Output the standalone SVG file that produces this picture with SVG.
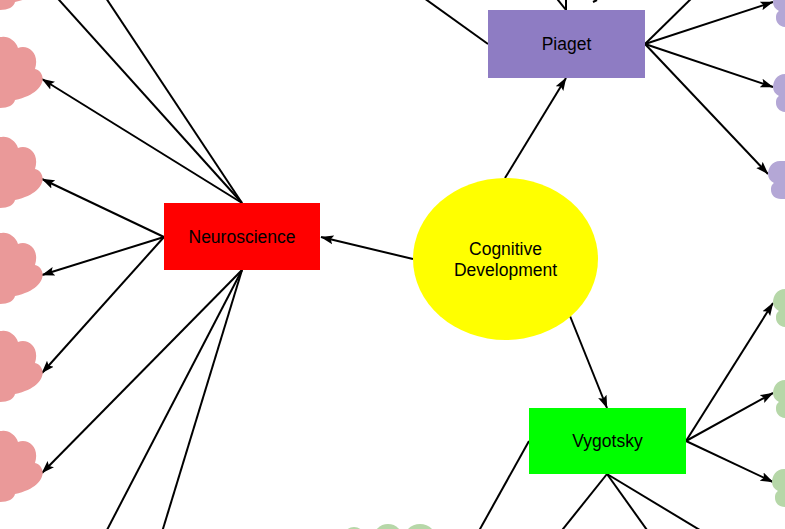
<svg xmlns="http://www.w3.org/2000/svg" width="785" height="529" viewBox="0 0 785 529">
<style>
.c{stroke:#000;stroke-width:2;fill:none}
.a{marker-end:url(#ah)}
.t{font-family:"Liberation Sans",Arial,sans-serif;font-size:17.5px;fill:#000;text-anchor:middle}
.pk{fill:#ea9999}
.pu{fill:#b4a7d6}
.gr{fill:#b6d7a8}
</style>
<defs>
<marker id="ah" viewBox="0 0 13 10" refX="12.5" refY="5" markerWidth="13" markerHeight="10" markerUnits="userSpaceOnUse" orient="auto">
<path d="M0,0.5 L13,5 L0,9.5 L2.5,5 Z" fill="#000"/>
</marker>
<path id="lcloud" d="M-20,-42 L2,-42 C8,-43 16,-38 18,-31 C28,-35 40,-26 35,-10 C47,-7 48,14 15,21 C14,26 8,29 0,29 L-20,29 Z"/>
<path id="rcloud" d="M60,-13 L12,-13 C4,-13 0,-6 0,0 C0,4 2,7 6,9 C3,11 3,14 3,16 C3,21 7,25 13,25 L60,25 Z"/>
</defs>
<g id="connectors">
<line class="c a" x1="413" y1="259" x2="321" y2="237"/>
<line class="c a" x1="505" y1="178" x2="566" y2="78"/>
<line class="c a" x1="570" y1="316" x2="607" y2="408"/>
<line class="c a" x1="242" y1="203" x2="42" y2="79"/>
<line class="c" x1="242" y1="203" x2="42" y2="-19"/>
<line class="c" x1="242" y1="203" x2="94" y2="-20"/>
<line class="c a" x1="164" y1="237" x2="42" y2="179"/>
<line class="c a" x1="164" y1="237" x2="42" y2="275"/>
<line class="c a" x1="164" y1="237" x2="42" y2="373"/>
<line class="c a" x1="242" y1="270" x2="42" y2="473"/>
<line class="c" x1="242" y1="270" x2="94" y2="555"/>
<line class="c" x1="242" y1="270" x2="155" y2="555"/>
<line class="c" x1="488" y1="44" x2="410" y2="-12"/>
<line class="c" x1="566" y1="10" x2="550" y2="-10"/>
<line class="c" x1="566" y1="10" x2="566" y2="-10"/>
<line class="c" x1="593" y1="2" x2="597" y2="0"/>
<line class="c" x1="645" y1="44" x2="700" y2="-10"/>
<line class="c a" x1="645" y1="44" x2="773" y2="2"/>
<line class="c a" x1="645" y1="44" x2="773" y2="87"/>
<line class="c a" x1="645" y1="44" x2="768" y2="174"/>
<line class="c" x1="529" y1="441" x2="470" y2="547"/>
<line class="c" x1="607" y1="474" x2="551" y2="544"/>
<line class="c" x1="607" y1="474" x2="657" y2="544"/>
<line class="c" x1="607" y1="474" x2="723" y2="544"/>
<line class="c a" x1="686" y1="441" x2="773" y2="303"/>
<line class="c a" x1="686" y1="441" x2="773" y2="393"/>
<line class="c a" x1="686" y1="441" x2="773" y2="482"/>
</g>
<g id="pink-clouds">
<use href="#lcloud" class="pk" transform="translate(0,-19)"/>
<use href="#lcloud" class="pk" transform="translate(0,79)"/>
<use href="#lcloud" class="pk" transform="translate(0,179)"/>
<use href="#lcloud" class="pk" transform="translate(0,275)"/>
<use href="#lcloud" class="pk" transform="translate(0,373)"/>
<use href="#lcloud" class="pk" transform="translate(0,473)"/>
</g>
<g id="purple-clouds">
<use href="#rcloud" class="pu" transform="translate(773,2)"/>
<use href="#rcloud" class="pu" transform="translate(773,87)"/>
<use href="#rcloud" class="pu" transform="translate(768,174)"/>
</g>
<g id="green-clouds">
<use href="#rcloud" class="gr" transform="translate(773,302)"/>
<use href="#rcloud" class="gr" transform="translate(773,393)"/>
<use href="#rcloud" class="gr" transform="translate(772,482)"/>
<circle class="gr" cx="354" cy="538" r="11"/>
<circle class="gr" cx="388" cy="539" r="15"/>
<circle class="gr" cx="420" cy="541" r="17"/>
</g>
<g id="cognitive-development">
<ellipse cx="505.5" cy="259" rx="92.5" ry="81" fill="#ffff00"/>
<text class="t" x="505.5" y="255">Cognitive</text>
<text class="t" x="505.5" y="276">Development</text>
</g>
<g id="neuroscience">
<rect x="164" y="203" width="156" height="67" fill="#ff0000"/>
<text class="t" x="242" y="243">Neuroscience</text>
</g>
<g id="piaget">
<rect x="488" y="10" width="157" height="68" fill="#8e7cc3"/>
<text class="t" x="566.5" y="50">Piaget</text>
</g>
<g id="vygotsky">
<rect x="529" y="408" width="157" height="66" fill="#00ff00"/>
<text class="t" x="607.5" y="447">Vygotsky</text>
</g>
</svg>
